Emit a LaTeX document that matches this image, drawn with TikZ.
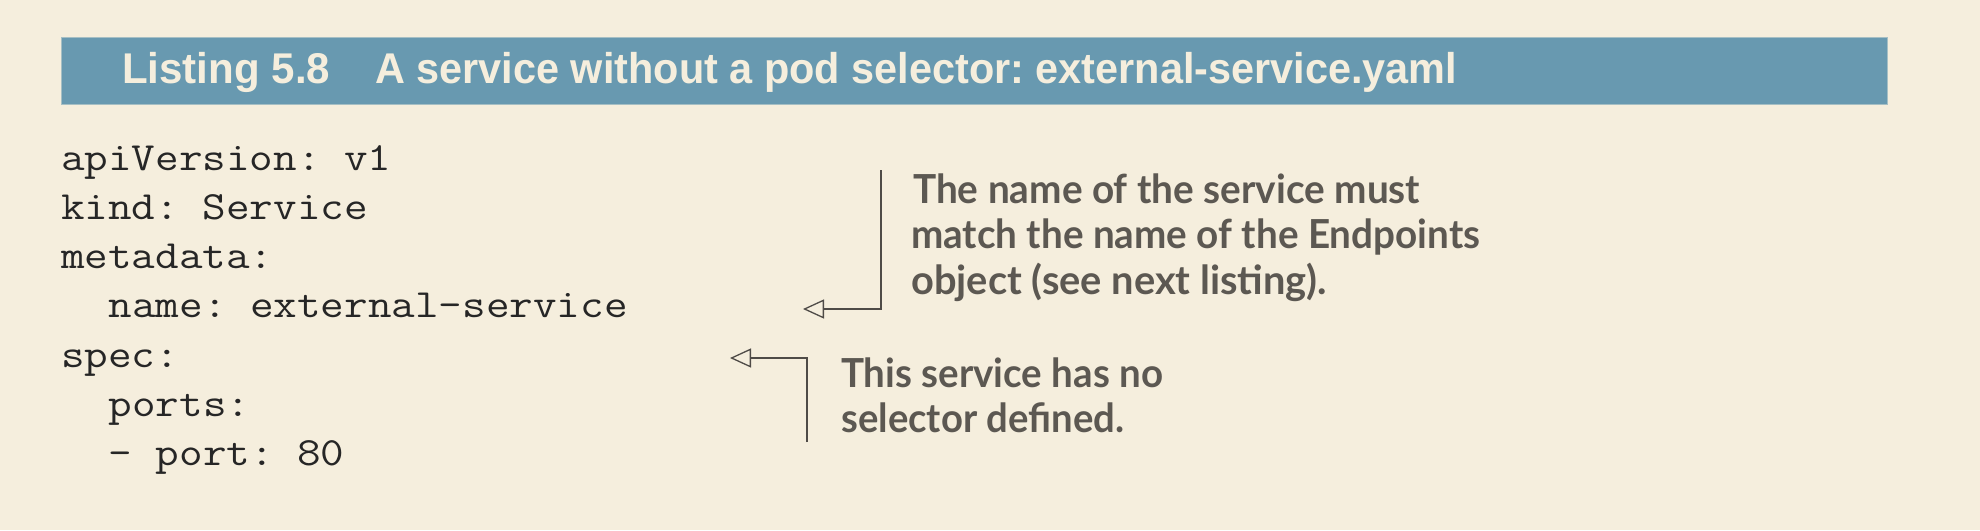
\documentclass[tikz,border=0pt]{standalone}
\usepackage{fontspec}
\usepackage{graphicx}
\usetikzlibrary{arrows.meta}
\newfontfamily\hfont{Liberation Sans}
\newfontfamily\afont{Lato}
\definecolor{bgcol}{HTML}{F5EEDD}
\definecolor{barcol}{HTML}{6899B0}
\definecolor{barline}{HTML}{A6BFC4}
\definecolor{codecol}{HTML}{262626}
\definecolor{anncol}{HTML}{5C5852}
\definecolor{linecol}{HTML}{4F4B47}
\tikzset{
  hdrbar/.style={draw=barline, line width=1pt, fill=barcol, minimum width=1826pt, minimum height=67pt, inner sep=0pt},
  hdrtext/.style={anchor=base west, inner sep=0pt, text=bgcol, font=\hfont\bfseries\fontsize{43}{50}\selectfont},
  codeline/.style={anchor=base west, inner sep=0pt, text=codecol, font=\ttfamily\frenchspacing\fontsize{40}{48}\selectfont},
  annline/.style={anchor=base west, inner sep=0pt, text=anncol, font=\afont\bfseries\fontsize{40}{46}\selectfont},
  leader/.style={draw=linecol, line width=1.3pt, -{Triangle[length=21pt,width=19pt,fill=bgcol]}}
}
\newcommand{\cs}[1]{\scalebox{1.145}[1]{#1}}
\frenchspacing
\begin{document}
\begin{tikzpicture}[x=1pt,y=-1pt]
\path[use as bounding box, fill=bgcol] (0,0) rectangle (1980,530);
% header
\node[hdrbar] (bar) at (974,70.5) {};
\node[hdrtext] (lst) at (122,83) {\resizebox{208pt}{\height}{Listing 5.8}};
\node[hdrtext] (ttl) at (375,83) {\resizebox{1082pt}{\height}{A service without a pod selector: external-service.yaml}};
% code
\node[codeline] (c1) at (61,170)   {\cs{apiVersion: v1}};
\node[codeline] (c2) at (61,219.3) {\cs{kind: Service}};
\node[codeline] (c3) at (61,268.6) {\cs{metadata:}};
\node[codeline] (c4) at (108.5,317.9) {\cs{name: external-service}};
\node[codeline] (c5) at (61,367.2) {\cs{spec:}};
\node[codeline] (c6) at (108.5,416.5) {\cs{ports:}};
\node[codeline] (c7) at (108.5,465.8) {\cs{- port: 80}};
% annotations
\node[annline] (a1) at (913,203) {\resizebox{507pt}{\height}{The name of the service must}};
\node[annline] (a2) at (911,248.5) {\resizebox{569pt}{\height}{match the name of the Endpoints}};
\node[annline] (a3) at (911,294) {\resizebox{416pt}{\height}{object (see next listing).}};
\node[annline] (b1) at (841,387) {\resizebox{322pt}{\height}{This service has no}};
\node[annline] (b2) at (841,432.5) {\resizebox{283pt}{\height}{selector defined.}};
% connectors
\coordinate (t1) at (803,309);
\coordinate (s1) at (881,170);
\coordinate (t2) at (730,358);
\coordinate (s2) at (807,442);
\draw[leader] (s1) |- (t1);
\draw[leader] (s2) |- (t2);
\end{tikzpicture}
\end{document}
